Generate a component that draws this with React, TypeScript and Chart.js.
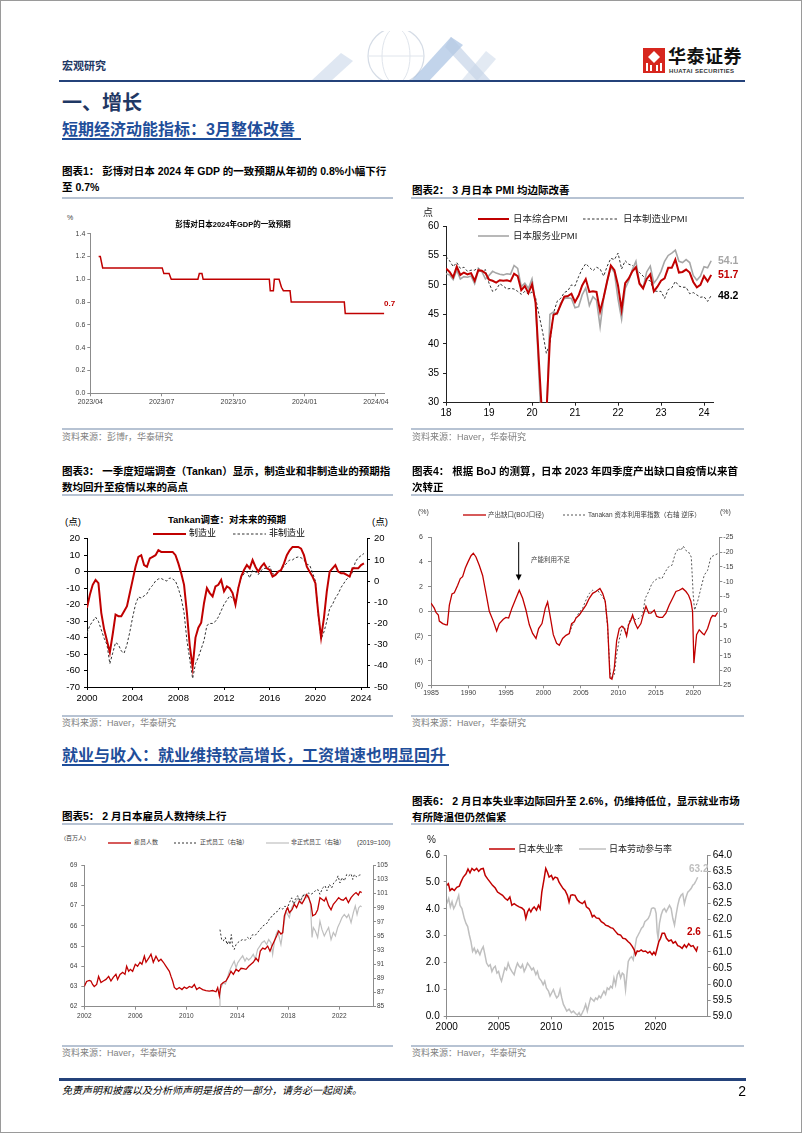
import React, { useEffect, useRef } from 'react';
import { Chart, registerables } from 'chart.js';

Chart.register(...registerables);

// ---------------- data ----------------
// Chart 1: Bloomberg consensus for Japan 2024 GDP (x = months since 2023/04)
const GDP_T = [0.35, 0.42, 0.52, 3.02, 3.09, 3.31, 3.4, 4.52, 4.58, 4.69, 4.74, 7.52, 7.56, 7.69, 7.73, 7.93, 8.03, 8.11, 8.39, 8.44, 10.67, 10.71, 12.35];
const GDP_V = [1.2, 1.2, 1.1, 1.1, 1.05, 1.05, 1.0, 1.0, 1.05, 1.05, 1.0, 1.0, 0.9, 0.9, 1.0, 1.0, 0.93, 0.9, 0.9, 0.8, 0.8, 0.7, 0.7];
const GDP_X_TICKS = [0, 3, 6, 9, 12];
const GDP_X_LABELS = ['2023/04', '2023/07', '2023/10', '2024/01', '2024/04'];
const GDP_Y_TICKS = [0, 0.2, 0.4, 0.6, 0.8, 1.0, 1.2, 1.4];

// Chart 2: Japan PMI, monthly 2018-01 .. 2024-03
const PMI_COMPOSITE = [52.8, 52.2, 51.3, 53.1, 51.7, 52.1, 51.8, 52.0, 50.7, 52.5, 52.4, 52.0, 50.9, 50.7, 50.4, 50.8, 50.7, 50.8, 50.6, 51.9, 51.5, 49.1, 49.8, 48.6, 50.1, 47.0, 36.2, 25.8, 27.8, 40.8, 44.9, 45.2, 46.6, 48.0, 48.1, 48.5, 47.1, 48.2, 49.9, 51.0, 48.8, 48.9, 48.8, 45.5, 47.9, 50.7, 53.3, 52.5, 49.9, 45.8, 50.3, 51.1, 52.3, 53.0, 50.2, 49.4, 51.0, 51.8, 48.9, 49.7, 50.7, 51.1, 52.9, 52.9, 54.3, 52.1, 52.2, 52.6, 52.1, 50.5, 49.6, 50.0, 51.5, 50.6, 51.7];
const PMI_MANUF = [54.8, 54.1, 53.1, 53.8, 52.8, 53.0, 52.3, 52.5, 52.5, 52.9, 52.2, 52.6, 50.3, 48.9, 49.2, 50.2, 49.8, 49.3, 49.4, 49.3, 48.9, 48.4, 48.9, 48.4, 48.8, 47.8, 44.8, 41.9, 38.4, 40.1, 45.2, 47.2, 47.7, 48.7, 49.0, 50.0, 49.8, 51.4, 52.7, 53.6, 53.0, 52.4, 53.0, 52.7, 51.5, 53.2, 54.5, 54.3, 55.4, 52.7, 54.1, 53.5, 53.3, 52.7, 52.1, 51.5, 50.8, 50.7, 49.0, 48.9, 48.9, 47.7, 49.2, 49.5, 50.6, 49.8, 49.6, 49.6, 48.5, 48.7, 48.3, 47.9, 48.0, 47.2, 48.2];
const PMI_SERVICES = [51.9, 51.7, 50.9, 52.5, 51.0, 51.4, 51.3, 51.5, 50.2, 52.4, 52.3, 51.0, 51.6, 52.3, 52.0, 51.8, 51.7, 51.9, 51.8, 53.3, 52.8, 49.7, 50.3, 49.4, 51.0, 46.8, 33.8, 21.5, 26.5, 45.0, 45.4, 45.0, 46.9, 47.7, 47.8, 47.7, 46.1, 46.3, 48.3, 49.5, 46.5, 48.0, 47.4, 42.9, 47.8, 50.7, 53.0, 52.1, 47.6, 44.2, 49.4, 50.7, 52.6, 54.0, 50.3, 49.5, 52.2, 53.2, 50.3, 51.1, 52.3, 54.0, 55.0, 55.4, 55.9, 54.0, 53.8, 54.3, 53.8, 51.6, 50.8, 51.5, 53.1, 52.9, 54.1];
const PMI_X_TICKS = [0, 12, 24, 36, 48, 60, 72];
const PMI_X_LABELS = ['18', '19', '20', '21', '22', '23', '24'];
const PMI_Y_TICKS = [30, 35, 40, 45, 50, 55, 60];

// Chart 3: Tankan forecast DI, quarterly from 2000Q1
const TANKAN_MFG = [-22, -14, -8, -5, -7, -25, -35, -42, -49, -38, -26, -27, -27, -24, -21, -13, -5, 3, 9, 10, 4, 3, 8, 9, 10, 13, 12, 12, 12, 12, 12, 10, 5, -1, -8, -25, -45, -58, -40, -34, -31, -19, -10, -13, -15, -9, -8, -5, -12, -9, -10, -13, -20, -10, -3, 1, 4, 2, 7, 3, 0, 3, 5, 2, 1, -3, -2, 0, 1, 5, 10, 13, 15, 15, 15, 14, 10, 3, 0, -3, -7, -25, -40, -28, -12, 0, 2, 4, 0, -1, -1, -2, -3, 2, 2, 2, 4, 5];
const TANKAN_NONMFG = [-24.5, -21, -19, -17, -19, -23, -27, -30, -39, -34, -29, -30, -33, -34, -30, -24, -17, -11, -7.5, -8, -7, -6, -3.5, -2, 0, 1, 1.2, 0.5, 0, 1.5, 1, 0, -3.5, -8, -15, -28, -37, -46, -39, -36, -32, -28, -21, -20, -20, -19, -17, -14, -11, -9, -7, -8, -10, -3, 1.5, 3.5, 4.4, 1.5, 5, 4.4, 3, 5, 6, 6, 7, 3.5, 3, 4, 5.5, 7, 8.5, 10, 10, 11, 11.4, 11, 10, 8, 7.5, 4, 0, -16, -27.5, -24, -19, -13, -11, -8, -6, -3, -1, 1, 2, 4, 9, 11, 12, 13];
const TANKAN_T = TANKAN_MFG.map((_, i) => 2000 + i * 0.25);
const TANKAN_X_TICKS = [2000, 2004, 2008, 2012, 2016, 2020, 2024];
const TANKAN_L_TICKS = [-70, -60, -50, -40, -30, -20, -10, 0, 10, 20];
const TANKAN_R_TICKS = [-50, -40, -30, -20, -10, 0, 10, 20];

// Chart 4: BOJ output gap and Tankan capacity utilisation (right, reversed)
const GAP_T = [1985.0, 1985.44, 1985.67, 1985.98, 1986.11, 1986.56, 1987.0, 1987.18, 1987.45, 1987.8, 1988.11, 1988.56, 1988.91, 1989.22, 1989.58, 1989.94, 1990.34, 1990.65, 1991.0, 1991.45, 1991.89, 1992.34, 1992.78, 1993.31, 1993.76, 1994.12, 1994.65, 1995.0, 1995.36, 1995.8, 1996.34, 1996.78, 1997.23, 1997.67, 1998.12, 1998.56, 1999.01, 1999.36, 1999.81, 2000.25, 2000.56, 2000.87, 2001.32, 2001.76, 2002.12, 2002.56, 2003.01, 2003.45, 2003.76, 2004.12, 2004.34, 2004.79, 2005.23, 2005.68, 2006.12, 2006.57, 2007.01, 2007.54, 2007.9, 2008.25, 2008.57, 2008.88, 2009.14, 2009.46, 2009.77, 2010.12, 2010.48, 2010.79, 2011.1, 2011.37, 2011.68, 2011.9, 2012.26, 2012.57, 2013.01, 2013.32, 2013.68, 2014.04, 2014.35, 2014.79, 2015.1, 2015.46, 2015.9, 2016.35, 2016.79, 2017.24, 2017.68, 2018.13, 2018.57, 2019.02, 2019.37, 2019.68, 2019.9, 2020.08, 2020.44, 2020.79, 2021.24, 2021.46, 2021.91, 2022.35, 2022.57, 2022.93, 2023.24];
const GAP_V = [0.67, 0.25, -0.1, -0.3, -0.8, -1.0, -1.1, -1.1, 0.5, 1.4, 1.5, 2.1, 2.65, 2.8, 3.5, 4.0, 4.5, 4.7, 4.4, 3.7, 2.9, 1.45, 0, -0.8, -1.6, -1.0, -0.65, -0.5, -0.55, 0.25, 1.05, 1.7, 1.05, 0.1, -1.1, -1.8, -2.2, -1.4, -1.0, 0.25, 0.75, -0.3, -1.9, -2.6, -2.75, -2.2, -1.95, -1.8, -1.0, -0.85, -0.55, -0.3, 0.1, 0.5, 1.05, 1.45, 1.6, 1.85, 1.45, 0.8, -1.1, -5.4, -5.5, -4.6, -2.4, -1.4, -1.2, -1.4, -2.0, -1.1, -0.7, -0.3, -1.0, -1.4, -1.0, -0.3, 0.4, -0.15, -0.15, 0.1, -0.4, -0.5, -0.5, -0.15, 0.5, 1.05, 1.6, 1.7, 1.85, 1.6, 1.3, 0.8, 0, -4.2, -1.9, -1.5, -1.8, -1.9, -1.4, -0.55, -0.35, -0.4, -0.1];
const CAP_T = [2003.45, 2003.9, 2004.34, 2004.79, 2005.23, 2005.68, 2006.12, 2006.57, 2006.92, 2007.23, 2007.54, 2007.9, 2008.25, 2008.57, 2008.88, 2009.1, 2009.46, 2009.77, 2010.12, 2010.48, 2010.79, 2011.1, 2011.37, 2011.68, 2011.99, 2012.35, 2012.79, 2013.23, 2013.59, 2014.04, 2014.48, 2014.92, 2015.37, 2015.81, 2016.26, 2016.7, 2017.15, 2017.59, 2018.04, 2018.35, 2018.66, 2019.02, 2019.37, 2019.73, 2019.99, 2020.17, 2020.57, 2021.01, 2021.46, 2021.91, 2022.35, 2022.8, 2023.24];
const CAP_V = [7.4, 4.6, 2.3, 0.3, -1, -3.8, -6, -7.1, -6.6, -7.1, -6, -4.9, -3.2, 5.7, 20.2, 23, 21.3, 14.6, 9.6, 5.7, 5.1, 7.9, 4, 2.3, 2.3, 2.9, 2.3, 1.2, -4.4, -6.6, -9.4, -10.5, -11.3, -11, -13.3, -15, -15.5, -19.4, -21.3, -20.5, -22, -20.5, -20, -18.3, -5.5, -0.4, -3.2, -7.7, -12.2, -13.8, -18.3, -18.9, -19.4];
const GAP_X_TICKS = [1985, 1990, 1995, 2000, 2005, 2010, 2015, 2020];
const GAP_L_TICKS = [-6, -4, -2, 0, 2, 4, 6];
const GAP_R_TICKS = [-25, -20, -15, -10, -5, 0, 5, 10, 15, 20, 25];
const ARROW_YEAR = 1996.7;
const ARROW_FROM = 5.6;
const ARROW_TO = 2.5;

// Chart 5: employees (mn, left), regular / non-regular staff (2019=100, right)
const EMP_T = [2002.0, 2002.18, 2002.39, 2002.52, 2002.65, 2002.78, 2002.97, 2003.12, 2003.31, 2003.49, 2003.7, 2003.91, 2004.09, 2004.27, 2004.48, 2004.61, 2004.8, 2005.01, 2005.19, 2005.32, 2005.48, 2005.61, 2005.79, 2006.0, 2006.18, 2006.37, 2006.52, 2006.71, 2006.84, 2007.05, 2007.23, 2007.41, 2007.62, 2007.83, 2008.01, 2008.2, 2008.41, 2008.67, 2008.8, 2008.93, 2009.06, 2009.24, 2009.45, 2009.66, 2009.84, 2010.03, 2010.24, 2010.44, 2010.63, 2010.81, 2011.02, 2011.28, 2011.54, 2011.8, 2012.07, 2012.33, 2012.46, 2012.59, 2012.72, 2012.9, 2013.11, 2013.32, 2013.5, 2013.69, 2013.9, 2014.1, 2014.29, 2014.47, 2014.68, 2014.89, 2015.07, 2015.25, 2015.46, 2015.65, 2015.8, 2015.99, 2016.17, 2016.38, 2016.56, 2016.72, 2016.9, 2017.08, 2017.24, 2017.42, 2017.56, 2017.69, 2017.82, 2017.95, 2018.08, 2018.29, 2018.47, 2018.65, 2018.86, 2019.07, 2019.25, 2019.44, 2019.59, 2019.78, 2019.91, 2020.12, 2020.3, 2020.48, 2020.69, 2020.82, 2020.95, 2021.16, 2021.35, 2021.53, 2021.74, 2021.95, 2022.13, 2022.31, 2022.52, 2022.71, 2022.92, 2023.12, 2023.31, 2023.49, 2023.62, 2023.75];
const EMP_V = [63.0, 63.25, 63.3, 63.27, 63.1, 63.0, 63.1, 63.5, 63.2, 63.27, 63.35, 63.5, 63.27, 63.45, 63.6, 63.35, 63.6, 63.7, 63.6, 64.0, 63.75, 63.85, 63.75, 64.1, 64.0, 64.2, 64.1, 64.5, 64.2, 64.4, 64.6, 64.2, 64.5, 64.25, 64.35, 64.2, 64.0, 63.75, 63.5, 63.27, 62.95, 62.85, 62.95, 62.85, 62.97, 62.9, 63.0, 62.95, 63.1, 62.85, 62.95, 62.85, 62.8, 62.77, 62.8, 62.74, 62.94, 62.53, 63.1, 63.2, 63.27, 63.5, 63.75, 63.6, 63.85, 63.75, 63.9, 63.88, 63.85, 64.0, 64.1, 64.2, 64.4, 64.25, 64.75, 64.9, 64.85, 65.0, 64.75, 65.0, 65.25, 65.5, 65.75, 65.6, 65.67, 66.5, 66.74, 66.9, 66.65, 66.8, 67.07, 66.9, 67.23, 67.1, 67.3, 67.55, 67.4, 67.07, 66.5, 66.57, 66.8, 67.4, 67.3, 67.23, 67.4, 67.0, 66.8, 67.07, 67.23, 67.4, 67.3, 67.27, 67.4, 67.15, 67.4, 67.55, 67.65, 67.53, 67.7, 67.65];
const REG_T = [2012.64, 2012.77, 2012.9, 2013.06, 2013.19, 2013.32, 2013.42, 2013.53, 2013.63, 2013.76, 2013.9, 2014.03, 2014.21, 2014.42, 2014.63, 2014.81, 2014.99, 2015.2, 2015.41, 2015.59, 2015.78, 2015.99, 2016.2, 2016.38, 2016.56, 2016.77, 2016.95, 2017.16, 2017.35, 2017.56, 2017.74, 2017.9, 2018.08, 2018.26, 2018.42, 2018.55, 2018.73, 2018.92, 2019.07, 2019.25, 2019.44, 2019.59, 2019.78, 2019.96, 2020.12, 2020.3, 2020.48, 2020.69, 2020.88, 2021.03, 2021.22, 2021.4, 2021.56, 2021.74, 2021.9, 2022.05, 2022.21, 2022.39, 2022.58, 2022.73, 2022.92, 2023.05, 2023.18, 2023.36, 2023.57, 2023.75];
const REG_V = [95.9, 94.5, 94.3, 94.8, 93.8, 94.3, 93.8, 95.2, 93.6, 93.1, 93.8, 94.05, 94.3, 94.5, 94.4, 94.8, 94.5, 95.2, 95.1, 95.5, 95.9, 96.4, 96.65, 96.9, 97.6, 97.8, 98.3, 98.5, 99.0, 98.8, 99.25, 98.8, 99.7, 100.4, 99.5, 100.2, 100.7, 99.95, 100.4, 100.9, 100.7, 101.1, 100.9, 101.1, 101.4, 101.6, 100.9, 101.8, 102.1, 101.4, 102.3, 101.8, 102.5, 102.8, 103.5, 102.5, 103.25, 102.8, 103.7, 103.5, 103.8, 103.0, 103.7, 103.35, 103.6, 103.7];
const NONREG_T = [2012.59, 2012.64, 2012.77, 2012.9, 2013.06, 2013.19, 2013.37, 2013.5, 2013.63, 2013.76, 2013.9, 2014.03, 2014.21, 2014.42, 2014.6, 2014.73, 2014.89, 2015.07, 2015.25, 2015.41, 2015.59, 2015.78, 2015.93, 2016.12, 2016.3, 2016.46, 2016.64, 2016.77, 2016.9, 2017.03, 2017.16, 2017.29, 2017.42, 2017.56, 2017.69, 2017.82, 2017.95, 2018.08, 2018.26, 2018.42, 2018.6, 2018.78, 2018.94, 2019.12, 2019.25, 2019.44, 2019.59, 2019.73, 2019.86, 2019.96, 2020.12, 2020.3, 2020.48, 2020.64, 2020.82, 2021.01, 2021.16, 2021.35, 2021.53, 2021.69, 2021.87, 2022.05, 2022.21, 2022.39, 2022.58, 2022.73, 2022.92, 2023.1, 2023.25, 2023.39, 2023.52, 2023.65, 2023.75];
const NONREG_V = [84.8, 87.45, 87.9, 88.4, 88.2, 88.9, 90.0, 90.5, 91.0, 91.45, 90.5, 91.2, 91.7, 92.2, 91.45, 91.9, 91.6, 91.9, 92.4, 91.7, 93.1, 93.6, 94.05, 94.3, 93.8, 94.5, 94.05, 92.4, 94.05, 95.2, 95.7, 94.8, 93.8, 95.5, 97.1, 98.5, 98.05, 97.6, 99.0, 99.5, 99.95, 100.4, 99.7, 100.7, 100.9, 100.4, 100.7, 99.5, 94.8, 96.2, 95.7, 94.8, 97.1, 95.9, 95.0, 95.7, 96.2, 94.5, 95.5, 95.0, 96.2, 96.9, 97.6, 98.05, 97.6, 98.05, 96.9, 98.3, 99.25, 98.05, 99.0, 99.25, 99.15];
const EMP_X_TICKS = [2002, 2006, 2010, 2014, 2018, 2022];
const EMP_L_TICKS = [62, 63, 64, 65, 66, 67, 68, 69];
const EMP_R_TICKS = [85, 87, 89, 91, 93, 95, 97, 99, 101, 103, 105];

// Chart 6: unemployment rate (left) and labour participation rate (right)
const UNEMP_T = [2000.0, 2000.16, 2000.32, 2000.51, 2000.73, 2000.96, 2001.21, 2001.37, 2001.59, 2001.85, 2002.04, 2002.23, 2002.42, 2002.64, 2002.87, 2003.06, 2003.28, 2003.5, 2003.69, 2003.92, 2004.14, 2004.39, 2004.65, 2004.87, 2005.1, 2005.35, 2005.61, 2005.83, 2006.05, 2006.24, 2006.46, 2006.69, 2006.94, 2007.2, 2007.42, 2007.58, 2007.74, 2007.9, 2008.06, 2008.22, 2008.38, 2008.6, 2008.79, 2008.95, 2009.11, 2009.33, 2009.49, 2009.65, 2009.81, 2010.03, 2010.19, 2010.38, 2010.61, 2010.76, 2010.92, 2011.15, 2011.34, 2011.56, 2011.72, 2011.88, 2012.04, 2012.29, 2012.52, 2012.74, 2012.99, 2013.22, 2013.38, 2013.63, 2013.79, 2013.95, 2014.11, 2014.33, 2014.59, 2014.81, 2015.06, 2015.22, 2015.45, 2015.7, 2015.92, 2016.18, 2016.4, 2016.66, 2016.88, 2017.13, 2017.36, 2017.55, 2017.77, 2017.96, 2018.09, 2018.25, 2018.41, 2018.63, 2018.82, 2019.04, 2019.27, 2019.46, 2019.68, 2019.84, 2020.0, 2020.16, 2020.32, 2020.48, 2020.64, 2020.86, 2021.05, 2021.27, 2021.5, 2021.69, 2021.91, 2022.13, 2022.32, 2022.55, 2022.77, 2022.96, 2023.18, 2023.41, 2023.6, 2023.76, 2023.92, 2024.04];
const UNEMP_V = [4.87, 4.93, 4.68, 4.75, 4.68, 4.8, 4.84, 5.0, 5.18, 5.3, 5.48, 5.34, 5.5, 5.42, 5.5, 5.39, 5.48, 5.5, 5.24, 5.11, 5.0, 4.87, 4.77, 4.62, 4.56, 4.5, 4.38, 4.32, 4.44, 4.13, 4.19, 4.13, 4.07, 4.03, 3.95, 3.64, 3.88, 4.0, 3.88, 4.0, 4.07, 3.95, 4.13, 4.0, 4.62, 5.11, 5.5, 5.36, 5.18, 5.24, 5.09, 5.18, 5.14, 4.99, 4.89, 4.75, 4.68, 4.5, 4.25, 4.5, 4.52, 4.5, 4.32, 4.25, 4.19, 4.28, 4.07, 4.0, 3.88, 3.7, 3.76, 3.66, 3.64, 3.52, 3.46, 3.39, 3.36, 3.3, 3.27, 3.15, 3.05, 3.02, 2.9, 2.88, 2.78, 2.72, 2.6, 2.47, 2.29, 2.43, 2.41, 2.47, 2.41, 2.43, 2.35, 2.41, 2.29, 2.39, 2.29, 2.53, 2.78, 2.9, 3.09, 3.09, 2.9, 2.8, 2.84, 2.72, 2.78, 2.63, 2.6, 2.53, 2.66, 2.56, 2.7, 2.6, 2.63, 2.53, 2.43, 2.6];
const PART_T = [2000.0, 2000.19, 2000.35, 2000.51, 2000.67, 2000.83, 2001.05, 2001.15, 2001.27, 2001.46, 2001.69, 2001.85, 2002.01, 2002.17, 2002.32, 2002.48, 2002.64, 2002.8, 2002.96, 2003.18, 2003.34, 2003.5, 2003.66, 2003.82, 2004.01, 2004.17, 2004.33, 2004.49, 2004.65, 2004.81, 2004.97, 2005.13, 2005.25, 2005.41, 2005.57, 2005.73, 2005.89, 2006.05, 2006.24, 2006.46, 2006.62, 2006.78, 2006.94, 2007.1, 2007.26, 2007.42, 2007.58, 2007.74, 2007.96, 2008.15, 2008.31, 2008.54, 2008.69, 2008.85, 2009.08, 2009.24, 2009.39, 2009.55, 2009.75, 2009.9, 2010.06, 2010.22, 2010.38, 2010.54, 2010.7, 2010.86, 2011.02, 2011.18, 2011.34, 2011.5, 2011.72, 2011.94, 2012.13, 2012.36, 2012.52, 2012.68, 2012.83, 2012.99, 2013.15, 2013.31, 2013.47, 2013.63, 2013.79, 2013.95, 2014.11, 2014.27, 2014.43, 2014.59, 2014.75, 2014.9, 2015.06, 2015.22, 2015.38, 2015.54, 2015.7, 2015.86, 2016.02, 2016.18, 2016.34, 2016.5, 2016.66, 2016.82, 2016.97, 2017.13, 2017.26, 2017.39, 2017.55, 2017.71, 2017.87, 2018.03, 2018.18, 2018.34, 2018.5, 2018.66, 2018.82, 2018.98, 2019.14, 2019.3, 2019.46, 2019.62, 2019.78, 2019.94, 2020.06, 2020.16, 2020.25, 2020.38, 2020.54, 2020.7, 2020.86, 2021.02, 2021.18, 2021.34, 2021.5, 2021.66, 2021.82, 2021.97, 2022.13, 2022.29, 2022.45, 2022.61, 2022.77, 2022.93, 2023.09, 2023.25, 2023.41, 2023.57, 2023.73, 2023.89, 2024.04];
const PART_V = [62.49, 62.65, 62.39, 62.55, 62.34, 62.44, 62.65, 62.75, 62.44, 62.34, 62.03, 61.88, 61.78, 61.52, 61.32, 61.01, 61.11, 60.96, 61.06, 60.91, 61.06, 61.16, 60.91, 60.65, 60.55, 60.6, 60.39, 60.5, 60.55, 60.34, 60.39, 60.19, 60.09, 60.29, 60.5, 60.44, 60.65, 60.5, 60.39, 60.29, 60.5, 60.65, 60.55, 60.5, 60.6, 60.39, 60.5, 60.65, 60.55, 60.44, 60.5, 60.29, 60.39, 60.19, 60.09, 59.98, 60.09, 59.88, 59.78, 59.63, 59.73, 59.83, 59.68, 59.57, 59.63, 59.83, 59.57, 59.37, 59.27, 59.16, 59.22, 59.11, 59.16, 59.08, 59.04, 59.11, 59.01, 59.11, 59.22, 59.37, 59.16, 59.37, 59.57, 59.52, 59.47, 59.57, 59.52, 59.63, 59.57, 59.68, 59.78, 59.68, 59.88, 59.83, 59.93, 59.88, 60.19, 59.98, 60.29, 60.39, 60.19, 60.34, 60.29, 59.83, 60.29, 60.7, 60.8, 60.85, 60.75, 61.11, 61.42, 61.52, 61.62, 61.73, 61.78, 61.93, 61.98, 62.03, 62.14, 62.34, 62.36, 62.34, 62.19, 61.62, 61.42, 61.88, 62.14, 62.29, 62.34, 62.24, 62.34, 62.44, 62.34, 62.03, 61.83, 62.14, 62.44, 62.65, 62.75, 62.8, 62.49, 62.7, 62.85, 62.9, 62.96, 63.06, 63.11, 63.21, 63.31];
const UNEMP_X_TICKS = [2000, 2005, 2010, 2015, 2020];
const UNEMP_L_TICKS = [0, 1, 2, 3, 4, 5, 6];
const UNEMP_R_TICKS = [59, 59.5, 60, 60.5, 61, 61.5, 62, 62.5, 63, 63.5, 64];

// ---------------- styles ----------------
const NUM_FONT = "'Liberation Sans', Arial, sans-serif";
const CJK_FONT = "'Liberation Sans', 'Noto Sans CJK SC', sans-serif";
const RED = '#C00000';
const NAVY = '#1F3864';
const RULE = '#B7C3D3';

function series(xs: number[], ys: number[], color: string, width: number, yAxisID = 'y', dash: number[] = []) {
  return {
    data: xs.map((x, i) => ({ x, y: ys[i] })),
    borderColor: color,
    backgroundColor: color,
    borderWidth: width,
    borderDash: dash,
    pointRadius: 0,
    pointHoverRadius: 0,
    tension: 0,
    fill: false,
    yAxisID,
  };
}

function xAxis(o: { min: number; max: number; ticks: number[]; label: (v: number) => string; height: number; size: number; color: string; axis: string; pad: number }) {
  return {
    type: 'linear',
    min: o.min,
    max: o.max,
    afterBuildTicks: (s: any) => { s.ticks = o.ticks.map((v) => ({ value: v })); },
    afterFit: (s: any) => { s.height = o.height; },
    ticks: { callback: (v: any) => o.label(Number(v)), font: { family: NUM_FONT, size: o.size }, color: o.color, maxRotation: 0, minRotation: 0, autoSkip: false, padding: o.pad },
    grid: { drawOnChartArea: false, drawTicks: true, tickLength: 3, color: o.axis, tickColor: o.axis },
    border: { display: true, color: o.axis, width: 1 },
  };
}

function yAxis(o: { position: 'left' | 'right'; min: number; max: number; ticks: number[]; fmt: (v: number) => string; width: number; size: number; color: string; axis: string; pad: number; reverse?: boolean; zero?: string }) {
  return {
    type: 'linear',
    position: o.position,
    min: o.min,
    max: o.max,
    reverse: !!o.reverse,
    afterBuildTicks: (s: any) => { s.ticks = o.ticks.map((v) => ({ value: v })); },
    afterFit: (s: any) => { s.width = o.width; },
    ticks: { callback: (v: any) => o.fmt(Number(v)), font: { family: NUM_FONT, size: o.size }, color: o.color, padding: o.pad, autoSkip: false },
    grid: {
      drawOnChartArea: !!o.zero,
      drawTicks: true,
      tickLength: 3,
      tickColor: o.axis,
      color: (c: any) => (o.zero && c.tick && Math.abs(c.tick.value) < 1e-9 ? o.zero : 'rgba(0,0,0,0)'),
      lineWidth: 1,
    },
    border: { display: true, color: o.axis, width: 1 },
  };
}

function baseOptions(padTop: number, padRight: number, scales: any) {
  return {
    animation: false,
    responsive: false,
    maintainAspectRatio: false,
    events: [],
    layout: { padding: { top: padTop, right: padRight, left: 0, bottom: 0 } },
    plugins: { legend: { display: false }, tooltip: { enabled: false } },
    scales,
  };
}

// ---------------- chart configs ----------------
const chart1 = () => ({
  type: 'line',
  data: { datasets: [series(GDP_T, GDP_V, RED, 1.5)] },
  options: baseOptions(7.7, 13.7, {
    x: xAxis({ min: 0, max: 12.35, ticks: GDP_X_TICKS, label: (v) => GDP_X_LABELS[GDP_X_TICKS.indexOf(v)] || '', height: 19.7, size: 7, color: '#404040', axis: '#8C8C8C', pad: 2 }),
    y: yAxis({ position: 'left', min: 0, max: 1.4, ticks: GDP_Y_TICKS, fmt: (v) => v.toFixed(1), width: 37.3, size: 7, color: '#404040', axis: '#8C8C8C', pad: 2 }),
  }),
});

const PMI_IDX = PMI_COMPOSITE.map((_, i) => i);
const chart2 = () => ({
  type: 'line',
  data: {
    datasets: [
      series(PMI_IDX, PMI_COMPOSITE, RED, 2),
      series(PMI_IDX, PMI_SERVICES, '#A6A6A6', 1.6),
      series(PMI_IDX, PMI_MANUF, '#333333', 1, 'y', [2.5, 2]),
    ],
  },
  options: baseOptions(8.3, 7.3, {
    x: xAxis({ min: 0, max: 74.7, ticks: PMI_X_TICKS, label: (v) => PMI_X_LABELS[PMI_X_TICKS.indexOf(v)] || '', height: 18.3, size: 10, color: '#000', axis: '#222', pad: 2 }),
    y: yAxis({ position: 'left', min: 30, max: 60, ticks: PMI_Y_TICKS, fmt: (v) => String(v), width: 35, size: 10, color: '#000', axis: '#222', pad: 4 }),
  }),
});

const chart3 = () => ({
  type: 'line',
  data: {
    datasets: [
      series(TANKAN_T, TANKAN_MFG, RED, 2),
      series(TANKAN_T, TANKAN_NONMFG, '#333333', 1, 'y2', [2.5, 2]),
    ],
  },
  options: baseOptions(8.7, 0, {
    x: xAxis({ min: 2000, max: 2024.52, ticks: TANKAN_X_TICKS, label: (v) => String(v), height: 17, size: 9.5, color: '#000', axis: '#000', pad: 3 }),
    y: yAxis({ position: 'left', min: -70, max: 20, ticks: TANKAN_L_TICKS, fmt: (v) => String(v), width: 36, size: 9.5, color: '#000', axis: '#000', pad: 4, zero: '#000' }),
    y2: yAxis({ position: 'right', min: -50, max: 20, ticks: TANKAN_R_TICKS, fmt: (v) => String(v), width: 34, size: 9.5, color: '#000', axis: '#000', pad: 4 }),
  }),
});

const arrowPlugin = {
  id: 'capacityArrow',
  afterDatasetsDraw(chart: any) {
    const { ctx, scales } = chart;
    const x = scales.x.getPixelForValue(ARROW_YEAR);
    const y1 = scales.y.getPixelForValue(ARROW_FROM);
    const y2 = scales.y.getPixelForValue(ARROW_TO);
    ctx.save();
    ctx.strokeStyle = '#000';
    ctx.fillStyle = '#000';
    ctx.lineWidth = 1;
    ctx.beginPath();
    ctx.moveTo(x, y1);
    ctx.lineTo(x, y2 - 5);
    ctx.stroke();
    ctx.beginPath();
    ctx.moveTo(x - 3, y2 - 6);
    ctx.lineTo(x + 3, y2 - 6);
    ctx.lineTo(x, y2);
    ctx.closePath();
    ctx.fill();
    ctx.restore();
  },
};

const chart4 = () => ({
  type: 'line',
  data: {
    datasets: [
      series(GAP_T, GAP_V, RED, 1.3),
      series(CAP_T, CAP_V, '#555555', 1, 'y2', [2, 2]),
    ],
  },
  options: baseOptions(8, 0, {
    x: xAxis({ min: 1985, max: 2023.47, ticks: GAP_X_TICKS, label: (v) => String(v), height: 14.7, size: 7, color: '#404040', axis: '#8C8C8C', pad: 1 }),
    y: yAxis({ position: 'left', min: -6, max: 6, ticks: GAP_L_TICKS, fmt: (v) => (v < 0 ? `(${-v})` : String(v)), width: 25, size: 7, color: '#404040', axis: '#8C8C8C', pad: 5, zero: '#8C8C8C' }),
    y2: yAxis({ position: 'right', min: -25, max: 25, reverse: true, ticks: GAP_R_TICKS, fmt: (v) => String(v), width: 31.7, size: 7, color: '#404040', axis: '#8C8C8C', pad: 1 }),
  }),
  plugins: [arrowPlugin],
});

const chart5 = () => ({
  type: 'line',
  data: {
    datasets: [
      series(EMP_T, EMP_V, RED, 1.3),
      series(REG_T, REG_V, '#333333', 1, 'y2', [2, 2]),
      series(NONREG_T, NONREG_V, '#BFBFBF', 1.2, 'y2'),
    ],
  },
  options: baseOptions(8.3, 0, {
    x: xAxis({ min: 2002, max: 2024.64, ticks: EMP_X_TICKS, label: (v) => String(v), height: 17.3, size: 6.5, color: '#404040', axis: '#8C8C8C', pad: 3 }),
    y: yAxis({ position: 'left', min: 62, max: 69, ticks: EMP_L_TICKS, fmt: (v) => String(v), width: 28.3, size: 6.5, color: '#404040', axis: '#8C8C8C', pad: 4 }),
    y2: yAxis({ position: 'right', min: 85, max: 105, ticks: EMP_R_TICKS, fmt: (v) => String(v), width: 28, size: 6.5, color: '#404040', axis: '#8C8C8C', pad: 1 }),
  }),
});

const chart6 = () => ({
  type: 'line',
  data: {
    datasets: [
      series(UNEMP_T, UNEMP_V, RED, 1.5),
      series(PART_T, PART_V, '#BFBFBF', 1.5, 'y2'),
    ],
  },
  options: baseOptions(8.7, 0, {
    x: xAxis({ min: 2000, max: 2025, ticks: UNEMP_X_TICKS, label: (v) => String(v), height: 21.7, size: 10, color: '#000', axis: '#8C8C8C', pad: 2 }),
    y: yAxis({ position: 'left', min: 0, max: 6, ticks: UNEMP_L_TICKS, fmt: (v) => v.toFixed(1), width: 35.7, size: 10, color: '#000', axis: '#8C8C8C', pad: 4 }),
    y2: yAxis({ position: 'right', min: 59, max: 64, ticks: UNEMP_R_TICKS, fmt: (v) => v.toFixed(1), width: 43.3, size: 10, color: '#000', axis: '#8C8C8C', pad: 2 }),
  }),
});

// ---------------- components ----------------
function ChartBox({ left, top, width, height, make }: { left: number; top: number; width: number; height: number; make: () => any }) {
  const ref = useRef<HTMLCanvasElement>(null);
  useEffect(() => {
    const chart = new Chart(ref.current as HTMLCanvasElement, make());
    return () => chart.destroy();
  }, []);
  return <canvas ref={ref} width={width} height={height} style={{ position: 'absolute', left, top, width, height }} />;
}

function Txt({ x, y, size, children, color = '#000', weight = 400, align = 'left', family = CJK_FONT, italic = false, style = {} }: any) {
  const tx = align === 'left' ? '0' : align === 'center' ? '-50%' : '-100%';
  return (
    <div
      style={{
        position: 'absolute',
        left: x,
        top: y - size * 0.6,
        fontSize: size,
        lineHeight: `${size * 1.2}px`,
        color,
        fontWeight: weight,
        fontFamily: family,
        fontStyle: italic ? 'italic' : 'normal',
        whiteSpace: 'nowrap',
        transform: `translateX(${tx})`,
        ...style,
      }}
    >
      {children}
    </div>
  );
}

function Rule({ x, y, w, h = 1, color = RULE }: any) {
  return <div style={{ position: 'absolute', left: x, top: y, width: w, height: h, background: color }} />;
}

function LegLine({ x, y, w, color, width, dash }: any) {
  return (
    <svg style={{ position: 'absolute', left: x, top: y - 3, overflow: 'visible' }} width={w} height={6}>
      <line x1={0} y1={3} x2={w} y2={3} stroke={color} strokeWidth={width} strokeDasharray={dash} />
    </svg>
  );
}

function Title({ x, y, lines }: { x: number; y: number; lines: string[] }) {
  return (
    <>
      {lines.map((l, i) => (
        <Txt key={i} x={x} y={y + i * 16.5} size={10.5} weight={700}>{l}</Txt>
      ))}
    </>
  );
}

export default function App() {
  useEffect(() => {
    document.body.style.margin = '0';
  }, []);
  return (
    <div style={{ position: 'absolute', left: 0, top: 0, width: 802, height: 1133, background: '#fff', border: '1px solid #9A9A9A', boxSizing: 'border-box', overflow: 'hidden' }}>
      {/* header */}
      <svg style={{ position: 'absolute', left: 300, top: 30 }} width={210} height={50}>
        <circle cx={95} cy={25} r={28} fill="none" stroke="#D5DCE6" strokeWidth={1.2} />
        <ellipse cx={95} cy={25} rx={14} ry={28} fill="none" stroke="#E0E5EC" strokeWidth={1} />
        <line x1={67} y1={25} x2={123} y2={25} stroke="#E0E5EC" strokeWidth={1} />
        <polygon points="10,50 40,22 52,30 30,50" fill="#C9D7EA" opacity={0.6} />
        <polygon points="110,50 150,6 162,14 128,50" fill="#8FB0DA" opacity={0.55} />
        <polygon points="150,6 190,50 176,50 144,16" fill="#B7C9E2" opacity={0.55} />
        <polygon points="160,50 185,20 195,28 176,50" fill="#C7D5E8" opacity={0.5} />
      </svg>
      <Txt x={61} y={66} size={11} weight={700} color={NAVY}>宏观研究</Txt>
      <div style={{ position: 'absolute', left: 642, top: 47, width: 22, height: 25, background: '#D7261E' }}>
        <svg width={22} height={25} style={{ position: 'absolute', left: 0, top: 0 }}>
          <polygon points="11,3 17,9 11,15 5,9" fill="#fff" />
          <rect x={3} y={15} width={2} height={8} fill="#fff" />
          <rect x={7} y={17} width={2} height={6} fill="#fff" />
          <rect x={13} y={17} width={2} height={6} fill="#fff" />
          <rect x={17} y={15} width={2} height={8} fill="#fff" />
        </svg>
      </div>
      <Txt x={667} y={57} size={18} weight={700} color="#111" style={{ letterSpacing: 0.5 }}>华泰证券</Txt>
      <Txt x={668} y={70.5} size={6} weight={700} color="#333" family={NUM_FONT} style={{ letterSpacing: 0.35 }}>HUATAI SECURITIES</Txt>
      <Rule x={58} y={79} w={686} h={2} color="#24427A" />

      <Txt x={61} y={102} size={20} weight={700} color={NAVY}>一、增长</Txt>
      <Txt x={61} y={129} size={16} weight={700} color="#1F4E9A">短期经济动能指标：3月整体改善</Txt>
      <Rule x={61} y={137} w={239} h={1.5} color="#1F4E9A" />

      {/* chart 1 */}
      <Title x={61} y={170} lines={['图表1：  彭博对日本 2024 年 GDP 的一致预期从年初的 0.8%小幅下行', '至 0.7%']} />
      <Rule x={61} y={196} w={331} h={1.5} />
      <ChartBox left={52} top={225} width={345} height={187} make={chart1} />
      <Txt x={66} y={217} size={7} color="#404040">%</Txt>
      <Txt x={232} y={223} size={7.5} weight={700} align="center">彭博对日本2024年GDP的一致预期</Txt>
      <Txt x={383} y={303} size={8} weight={700} color={RED} family={NUM_FONT}>0.7</Txt>
      <Rule x={61} y={427} w={331} h={1.5} />
      <Txt x={61} y={436} size={9} color="#7F7F7F">资料来源：彭博r，华泰研究</Txt>

      {/* chart 2 */}
      <Title x={411} y={189} lines={['图表2：  3 月日本 PMI 均边际改善']} />
      <Rule x={410} y={196} w={333} h={1.5} />
      <ChartBox left={410} top={215} width={310} height={205} make={chart2} />
      <Txt x={422} y={212} size={10} color="#222">点</Txt>
      <LegLine x={477} y={217.5} w={31} color={RED} width={2} />
      <Txt x={512} y={217.5} size={9.5} color="#222">日本综合PMI</Txt>
      <LegLine x={582} y={217.5} w={36} color="#333" width={1} dash="2.5,2" />
      <Txt x={622} y={217.5} size={9.5} color="#222">日本制造业PMI</Txt>
      <LegLine x={477} y={235} w={31} color="#A6A6A6" width={1.6} />
      <Txt x={512} y={235} size={9.5} color="#222">日本服务业PMI</Txt>
      <Txt x={717} y={259} size={10.5} weight={700} color="#A6A6A6" family={NUM_FONT}>54.1</Txt>
      <Txt x={717} y={273.5} size={10.5} weight={700} color={RED} family={NUM_FONT}>51.7</Txt>
      <Txt x={717} y={294.5} size={10.5} weight={700} color="#000" family={NUM_FONT}>48.2</Txt>
      <Rule x={410} y={427} w={333} h={1.5} />
      <Txt x={411} y={436} size={9} color="#7F7F7F">资料来源：Haver，华泰研究</Txt>

      {/* chart 3 */}
      <Title x={61} y={470} lines={['图表3：  一季度短端调查（Tankan）显示，制造业和非制造业的预期指', '数均回升至疫情以来的高点']} />
      <Rule x={61} y={493} w={331} h={1.5} />
      <ChartBox left={50} top={528} width={350} height={175} make={chart3} />
      <Txt x={226} y={519} size={9.5} weight={700} align="center">Tankan调查：对未来的预期</Txt>
      <Txt x={64} y={521} size={9.5}>(点)</Txt>
      <Txt x={371} y={521} size={9.5}>(点)</Txt>
      <LegLine x={152} y={532.5} w={33} color={RED} width={2} />
      <Txt x={188} y={532.5} size={9}>制造业</Txt>
      <LegLine x={232} y={532.5} w={33} color="#333" width={1} dash="2.5,2" />
      <Txt x={268} y={532.5} size={9}>非制造业</Txt>
      <Rule x={61} y={714} w={331} h={1.5} />
      <Txt x={61} y={722} size={9} color="#7F7F7F">资料来源：Haver，华泰研究</Txt>

      {/* chart 4 */}
      <Title x={411} y={470} lines={['图表4：  根据 BoJ 的测算，日本 2023 年四季度产出缺口自疫情以来首', '次转正']} />
      <Rule x={410} y={493} w={333} h={1.5} />
      <ChartBox left={405} top={527} width={345} height={172} make={chart4} />
      <Txt x={417} y={511} size={7} color="#404040">(%)</Txt>
      <Txt x={719} y={511} size={7} color="#404040">(%)</Txt>
      <LegLine x={462} y={514} w={23} color={RED} width={1.3} />
      <Txt x={487} y={514} size={6.5} color="#404040">产出缺口(BOJ口径)</Txt>
      <LegLine x={562} y={514} w={23} color="#555" width={1} dash="2,2" />
      <Txt x={587} y={514} size={6.5} color="#404040">Tanakan 资本利用率指数（右轴 逆序）</Txt>
      <Txt x={530} y={559} size={6.5} color="#404040">产能利用不足</Txt>
      <Rule x={410} y={714} w={333} h={1.5} />
      <Txt x={411} y={722} size={9} color="#7F7F7F">资料来源：Haver，华泰研究</Txt>

      {/* section 2 */}
      <Txt x={61} y={755} size={16} weight={700} color="#1F4E9A">就业与收入：就业维持较高增长，工资增速也明显回升</Txt>
      <Rule x={61} y={763} w={387} h={1.5} color="#1F4E9A" />

      {/* chart 5 */}
      <Title x={61} y={815} lines={['图表5：  2 月日本雇员人数持续上行']} />
      <Rule x={61} y={822} w={331} h={1.5} />
      <ChartBox left={55} top={856} width={345} height={167} make={chart5} />
      <Txt x={63} y={837.5} size={6} color="#404040">(百万人)</Txt>
      <LegLine x={107} y={842} w={23} color={RED} width={1.3} />
      <Txt x={133} y={842} size={6} color="#404040">雇员人数</Txt>
      <LegLine x={173} y={842} w={23} color="#333" width={1} dash="2,2" />
      <Txt x={199} y={842} size={6} color="#404040">正式员工（右轴）</Txt>
      <LegLine x={265} y={842} w={23} color="#BFBFBF" width={1.2} />
      <Txt x={290} y={842} size={6} color="#404040">非正式员工（右轴）</Txt>
      <Txt x={356} y={842} size={6.5} color="#404040" family={NUM_FONT}>(2019=100)</Txt>
      <Rule x={61} y={1044} w={331} h={1.5} />
      <Txt x={61} y={1052} size={9} color="#7F7F7F">资料来源：Haver，华泰研究</Txt>

      {/* chart 6 */}
      <Title x={411} y={800} lines={['图表6：  2 月日本失业率边际回升至 2.6%，仍维持低位，显示就业市场', '有所降温但仍然偏紧']} />
      <Rule x={410} y={822} w={333} h={1.5} />
      <ChartBox left={410} top={844} width={340} height={193} make={chart6} />
      <Txt x={426} y={839} size={10} color="#222" family={NUM_FONT}>%</Txt>
      <LegLine x={488} y={848} w={26} color={RED} width={1.5} />
      <Txt x={517} y={848} size={9} color="#222">日本失业率</Txt>
      <LegLine x={578} y={848} w={27} color="#BFBFBF" width={1.5} />
      <Txt x={608} y={848} size={9} color="#222">日本劳动参与率</Txt>
      <Txt x={688} y={868} size={10} weight={700} color="#BFBFBF" family={NUM_FONT}>63.2</Txt>
      <Txt x={686} y={931} size={10} weight={700} color={RED} family={NUM_FONT}>2.6</Txt>
      <Rule x={410} y={1044} w={333} h={1.5} />
      <Txt x={411} y={1052} size={9} color="#7F7F7F">资料来源：Haver，华泰研究</Txt>

      {/* footer */}
      <Rule x={58} y={1077} w={687} h={2.5} color="#24427A" />
      <Txt x={61} y={1090} size={10} italic>免责声明和披露以及分析师声明是报告的一部分，请务必一起阅读。</Txt>
      <Txt x={745} y={1090} size={14} align="right" family={NUM_FONT}>2</Txt>
    </div>
  );
}
